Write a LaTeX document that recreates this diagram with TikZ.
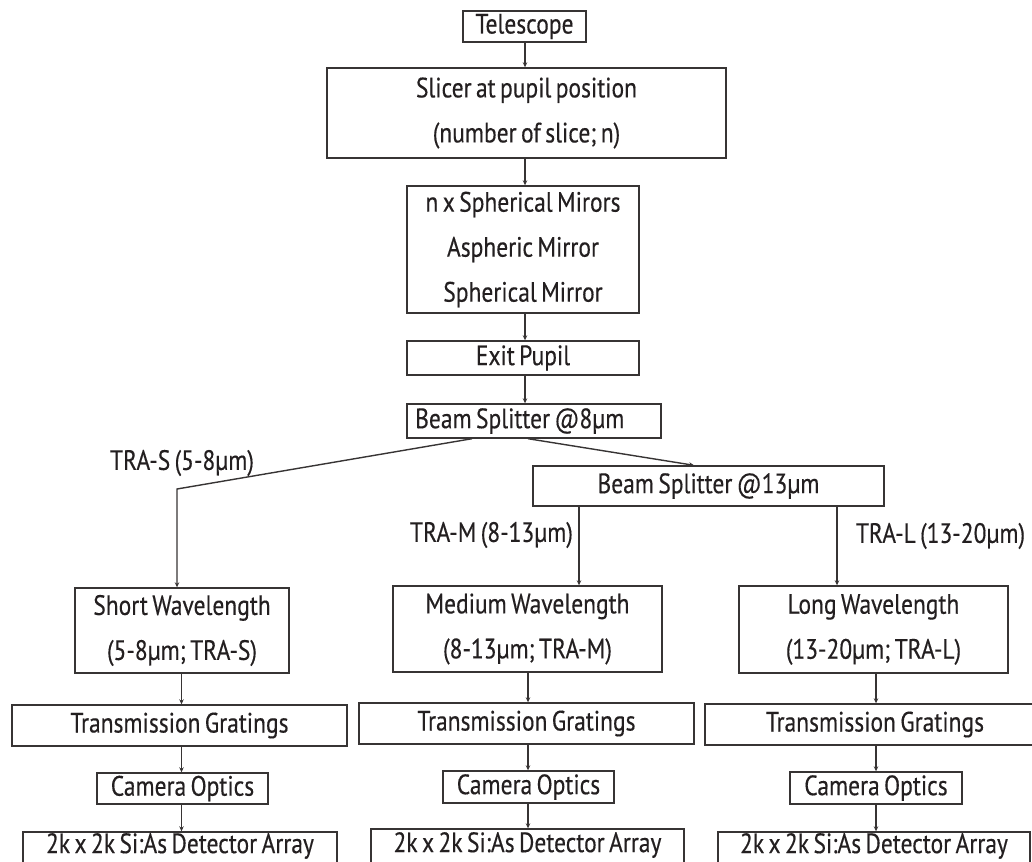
\documentclass[tikz,border=0pt]{standalone}
\usepackage{fontspec}
\setmainfont[FakeStretch=0.84,FakeBold=0.35,WordSpace=0.7]{PT Sans}
\usetikzlibrary{arrows.meta}
\definecolor{ink}{RGB}{35,31,32}
\definecolor{linec}{RGB}{55,52,52}
\begin{document}
\begin{tikzpicture}[x=1pt,y=-1pt,
  every node/.style={text=ink},
  box/.style={draw=linec, line width=1.4pt, inner sep=0pt, align=center,
    font=\fontsize{28}{45}\selectfont},
  lbl/.style={inner sep=0pt, font=\fontsize{28}{30}\selectfont},
  arr/.style={draw=linec, line width=1.4pt, -{Stealth[length=5pt,width=4.5pt]}},
  ln/.style={draw=linec, line width=1.4pt}]
\useasboundingbox (0,0) rectangle (1032,861);
\clip (0,0) rectangle (1032,861);
% top chain
\node[box, minimum width=123, minimum height=31] (tel) at (524.5,26.5) {Telescope};
\node[box, minimum width=399, minimum height=90] (slicer) at (526.5,113) {Slicer at pupil position\\(number of slice; n)};
\node[box, minimum width=232, minimum height=127] (mirrors) at (523,249.5) {n x Spherical Mirors\\Aspheric Mirror\\Spherical Mirror};
\node[box, minimum width=232, minimum height=34] (exit) at (523,358) {Exit Pupil};
\node[box, minimum width=254, minimum height=34] (bs8) at (534,421) {};
\node[lbl, anchor=west] (tbs8) at (415,421) {Beam Splitter @8µm};
\node[box, minimum width=351, minimum height=40] (bs13) at (708.5,486) {Beam Splitter @13µm};
% second level
\node[box, minimum width=214, minimum height=85] (short) at (182,630.5) {Short Wavelength\\(5-8µm; TRA-S)};
\node[box, minimum width=269, minimum height=86] (medium) at (527.5,629) {Medium Wavelength\\(8-13µm; TRA-M)};
\node[box, minimum width=269, minimum height=87] (long) at (873.5,629.5) {Long Wavelength\\(13-20µm; TRA-L)};
% gratings
\node[box, minimum width=335, minimum height=41] (tgS) at (179.5,725.5) {Transmission Gratings};
\node[box, minimum width=335, minimum height=41] (tgM) at (526.5,723.5) {Transmission Gratings};
\node[box, minimum width=340, minimum height=41] (tgL) at (875,724.5) {Transmission Gratings};
% camera optics
\node[box, minimum width=171, minimum height=31] (coS) at (182.5,788.5) {Camera Optics};
\node[box, minimum width=171, minimum height=32] (coM) at (528.5,787) {Camera Optics};
\node[box, minimum width=172, minimum height=32] (coL) at (876,788) {Camera Optics};
% detectors
\node[box, minimum width=314, minimum height=36] (detS) at (180,850) {};
\node[box, minimum width=313, minimum height=38] (detM) at (527.5,848) {};
\node[box, minimum width=312, minimum height=36] (detL) at (874,850) {};
\node[lbl] (tdS) at (180,846) {2k x 2k Si:As Detector Array};
\node[lbl] (tdM) at (527.5,845) {2k x 2k Si:As Detector Array};
\node[lbl] (tdL) at (874,846) {2k x 2k Si:As Detector Array};
% labels
\node[lbl] (lS) at (182,463) {TRA-S (5-8µm)};
\node[lbl] (lM) at (491.5,535) {TRA-M (8-13µm)};
\node[lbl] (lL) at (940.5,536) {TRA-L (13-20µm)};
% helper coordinates
\coordinate (cx) at (525,0);
\coordinate (bl) at (472,0);
\coordinate (br) at (528,0);
\coordinate (corner) at (177,489);
\coordinate (bt) at (694,0);
\coordinate (mx) at (579,0);
\coordinate (lx) at (837,0);
\coordinate (sx) at (181.5,0);
\coordinate (mmx) at (528,0);
\coordinate (llx) at (876,0);
% connectors top
\draw[arr] (tel.south -| cx) -- (slicer.north -| cx);
\draw[arr] (slicer.south -| cx) -- (mirrors.north -| cx);
\draw[arr] (mirrors.south -| cx) -- (exit.north -| cx);
\draw[arr] (exit.south -| cx) -- (bs8.north -| cx);
% splits
\draw[arr] (bs8.south -| bl) -- (corner) -- (corner |- short.north);
\draw[arr] (bs8.south -| br) -- (bs13.north -| bt);
\draw[arr] (bs13.south -| mx) -- (medium.north -| mx);
\draw[arr] (bs13.south -| lx) -- (long.north -| lx);
% columns
\draw[arr] (short.south -| sx) -- (tgS.north -| sx);
\draw[arr] (tgS.south -| sx) -- (coS.north -| sx);
\draw[arr] (coS.south -| sx) -- (detS.north -| sx);
\draw[arr] (medium.south -| mmx) -- (tgM.north -| mmx);
\draw[arr] (tgM.south -| mmx) -- (coM.north -| mmx);
\draw[arr] (coM.south -| mmx) -- (detM.north -| mmx);
\draw[arr] (long.south -| llx) -- (tgL.north -| llx);
\draw[arr] (tgL.south -| llx) -- (coL.north -| llx);
\draw[arr] (coL.south -| llx) -- (detL.north -| llx);
\end{tikzpicture}
\end{document}
